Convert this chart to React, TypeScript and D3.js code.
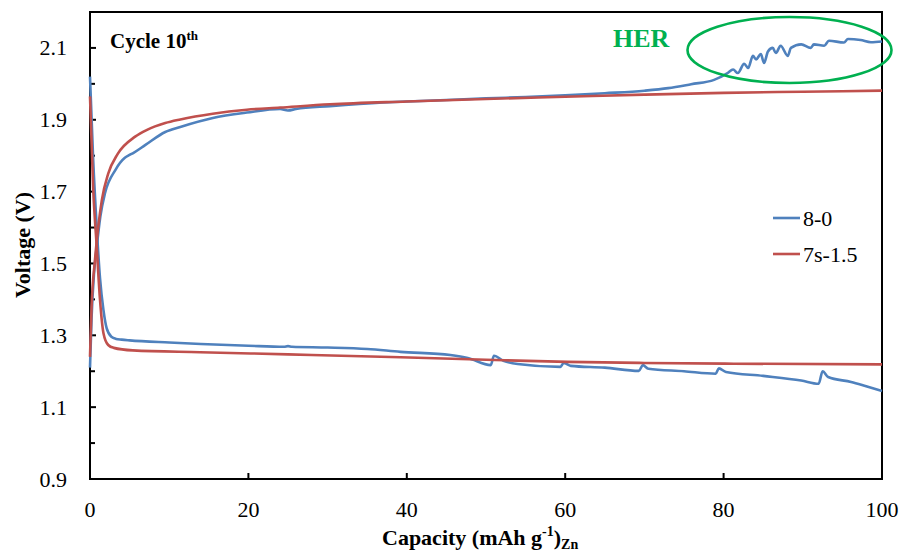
import React from "react";
import * as d3 from "d3";

const W = 903;
const H = 554;

const xTicks = [0, 20, 40, 60, 80, 100];
const yTicks = [0.9, 1.1, 1.3, 1.5, 1.7, 1.9, 2.1];
const yMinorTicks = [1.0, 1.2, 1.4, 1.6, 1.8, 2.0];

const seriesNames = ["8-0", "7s-1.5"];
const seriesColors = ["#4F81BD", "#C0504D"];

// 8-0 charge (capacity, voltage)
const blueCharge: [number, number][] = [
  [0, 1.21], [0.2, 1.35], [0.5, 1.47], [0.85, 1.546], [1.3, 1.63], [1.9, 1.696], [3.2, 1.76],
  [4.4, 1.794], [5, 1.802], [5.5, 1.808], [7, 1.83], [9.5, 1.866], [11.4, 1.88], [15.5, 1.905],
  [19.8, 1.92], [24, 1.93], [25, 1.926], [26, 1.93], [30.3, 1.938], [37, 1.948], [40, 1.951],
  [45, 1.955], [50, 1.96], [55, 1.963], [60, 1.968], [65, 1.974], [70, 1.981], [73, 1.988],
  [75.9, 1.999], [78.8, 2.011], [80.5, 2.03], [81.2, 2.04], [81.8, 2.03], [82.6, 2.056],
  [83.1, 2.044], [83.7, 2.078], [84.1, 2.068], [84.7, 2.083], [85.1, 2.058], [85.6, 2.09],
  [86.2, 2.1], [86.6, 2.086], [87.2, 2.106], [88.1, 2.078], [88.5, 2.1], [89.8, 2.11], [91, 2.1],
  [91.4, 2.11], [92.7, 2.106], [93.3, 2.12], [95.2, 2.115], [95.7, 2.125], [97.3, 2.122],
  [98.6, 2.116], [100, 2.118],
];

// 8-0 discharge
const blueDischarge: [number, number][] = [
  [0, 2.02], [0.4, 1.79], [0.85, 1.6], [1.26, 1.46], [1.7, 1.37], [2.1, 1.32], [2.7, 1.296],
  [3.3, 1.29], [4, 1.288], [5, 1.286], [10, 1.28], [14, 1.276], [20, 1.271], [24.5, 1.268],
  [25, 1.27], [25.5, 1.268], [30, 1.266], [35, 1.262], [39.2, 1.254], [45.5, 1.245], [47.7, 1.237],
  [50.6, 1.217], [51, 1.243], [52.2, 1.229], [54, 1.22], [59.4, 1.212], [59.8, 1.223], [60.7, 1.215],
  [65, 1.21], [69.3, 1.201], [69.8, 1.217], [70.5, 1.207], [75, 1.2], [79, 1.193], [79.4, 1.208],
  [80.3, 1.198], [85, 1.187], [89.8, 1.174], [92, 1.165], [92.5, 1.2], [93.2, 1.184], [96.1, 1.17],
  [98, 1.158], [100, 1.145],
];

// 7s-1.5 charge
const redCharge: [number, number][] = [
  [0, 1.24], [0.2, 1.38], [0.63, 1.51], [1.5, 1.677], [2.3, 1.75], [3.5, 1.805], [5.7, 1.853],
  [7.2, 1.872], [9.5, 1.891], [11.4, 1.901], [15.5, 1.917], [19.8, 1.928], [24, 1.934],
  [30.3, 1.943], [40, 1.951], [50, 1.958], [60, 1.964], [70, 1.97], [80, 1.975], [90, 1.978],
  [100, 1.981],
];

// 7s-1.5 discharge
const redDischarge: [number, number][] = [
  [0, 1.965], [0.4, 1.71], [0.85, 1.546], [1.26, 1.4], [1.7, 1.306], [2.3, 1.273], [3, 1.265],
  [5.4, 1.258], [13.9, 1.253], [25, 1.247], [39.2, 1.239], [50, 1.232], [60.3, 1.226],
  [70, 1.223], [81.3, 1.221], [100, 1.219],
];

const FONT = "'Liberation Serif', 'Times New Roman', serif";

export default function App() {
  const left = 90, right = 882, top = 12, bottom = 479;
  const x = d3.scaleLinear().domain([0, 100]).range([left, right]);
  const y = d3.scaleLinear().domain([0.9, 2.2]).range([bottom, top]);
  const line = d3
    .line<[number, number]>()
    .x((d) => x(d[0]))
    .y((d) => y(d[1]))
    .curve(d3.curveMonotoneX);

  const curves = [
    { data: blueCharge, color: seriesColors[0] },
    { data: blueDischarge, color: seriesColors[0] },
    { data: redCharge, color: seriesColors[1] },
    { data: redDischarge, color: seriesColors[1] },
  ];

  return (
    <svg
      width={W}
      height={H}
      style={{ position: "absolute", left: 0, top: 0, background: "#fff" }}
      fontFamily={FONT}
    >
      <rect x={0} y={0} width={W} height={H} fill="#fff" />
      {/* frame */}
      <rect x={left} y={top} width={right - left} height={bottom - top} fill="none" stroke="#000" strokeWidth={2} />
      {/* y ticks */}
      {yTicks.map((t) => (
        <g key={"y" + t}>
          <line x1={left} x2={left + 6} y1={y(t)} y2={y(t)} stroke="#000" strokeWidth={2} />
          <text x={67} y={y(t) + 7.5} textAnchor="end" fontSize={22}>
            {t.toFixed(1)}
          </text>
        </g>
      ))}
      {yMinorTicks.map((t) => (
        <line key={"ym" + t} x1={left} x2={left + 5} y1={y(t)} y2={y(t)} stroke="#000" strokeWidth={2} />
      ))}
      {/* x ticks */}
      {xTicks.map((t) => (
        <g key={"x" + t}>
          <line x1={x(t)} x2={x(t)} y1={bottom} y2={bottom - 6} stroke="#000" strokeWidth={2} />
          <text x={x(t)} y={517} textAnchor="middle" fontSize={22}>
            {t}
          </text>
        </g>
      ))}
      {/* curves */}
      {curves.map((c, i) => (
        <path key={i} d={line(c.data) || ""} fill="none" stroke={c.color} strokeWidth={2.6} strokeLinejoin="round" />
      ))}
      {/* axis titles */}
      <text
        transform={`translate(30,245) rotate(-90)`}
        textAnchor="middle"
        fontSize={22}
        fontWeight="bold"
      >
        Voltage (V)
      </text>
      <text x={382} y={545} fontSize={22} fontWeight="bold">
        Capacity (mAh g
        <tspan fontSize={14} dy={-9}>-1</tspan>
        <tspan dy={9}>)</tspan>
        <tspan fontSize={14} dy={4}>Zn</tspan>
      </text>
      {/* annotation */}
      <text x={110} y={48} fontSize={21} fontWeight="bold">
        Cycle 10<tspan fontSize={13} dy={-8}>th</tspan>
      </text>
      <text x={613} y={47} fontSize={26} fontWeight="bold" fill="#00B050">
        HER
      </text>
      <ellipse cx={789.5} cy={50} rx={102} ry={33} fill="none" stroke="#00B050" strokeWidth={2.6} />
      {/* legend */}
      {seriesNames.map((n, i) => (
        <g key={n}>
          <line x1={773} x2={800} y1={218 + i * 36} y2={218 + i * 36} stroke={seriesColors[i]} strokeWidth={2.6} />
          <text x={803} y={218 + i * 36 + 7.5} fontSize={22}>
            {n}
          </text>
        </g>
      ))}
    </svg>
  );
}
